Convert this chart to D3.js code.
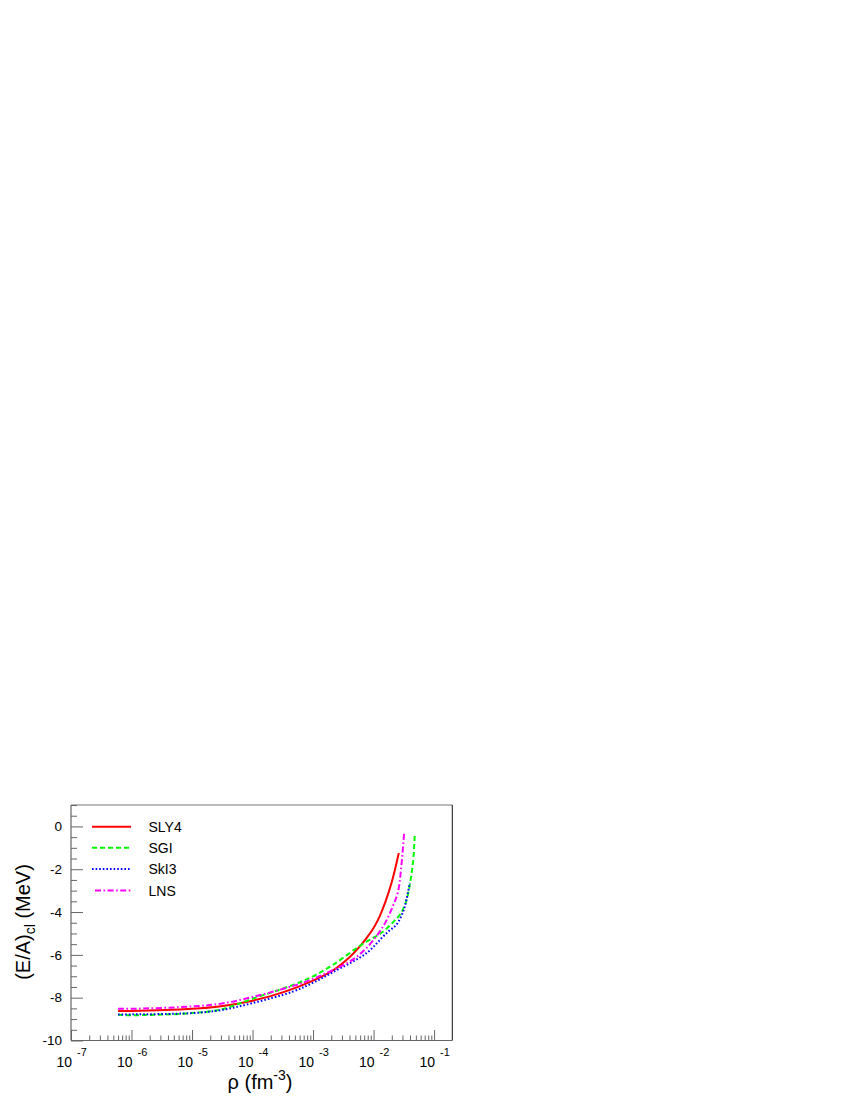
<!DOCTYPE html>
<html><head><meta charset="utf-8">
<script src="https://cdn.jsdelivr.net/npm/d3@7"></script>
<style>
body{margin:0;background:#fff}
svg{display:block}
text{font-family:"Liberation Sans",Arial,Helvetica,sans-serif;fill:#000}
</style>
</head><body>
<svg id="c" width="850" height="1100"></svg>
<script>
// ---- data ----
const seriesNames = ["SLY4", "SGI", "SkI3", "LNS"];
const seriesColors = ["#ff0000", "#00ff00", "#0000ff", "#ff00ff"];

const sly4Rho = [6e-7, 1e-6, 1e-5, 3e-5, 1e-4, 3.16e-4, 1e-3, 2.15e-3, 4.05e-3, 5.56e-3, 7.64e-3, 1e-2, 1.26e-2, 1.58e-2, 2.0e-2, 2.61e-2];
const sly4E   = [-8.62, -8.62, -8.52, -8.40, -8.14, -7.75, -7.20, -6.72, -6.10, -5.70, -5.22, -4.75, -4.20, -3.50, -2.60, -1.24];

const sgiRho = [6e-7, 1e-6, 1e-5, 3e-5, 1e-4, 4.7e-4, 1e-3, 2.15e-3, 6.3e-3, 1.44e-2, 2.72e-2, 2.89e-2, 3.5e-2, 3.97e-2, 4.5e-2, 4.8e-2];
const sgiE   = [-8.80, -8.82, -8.72, -8.55, -8.05, -7.40, -7.00, -6.46, -5.53, -4.91, -4.13, -4.03, -3.45, -2.72, -1.64, -0.31];

const ski3Rho = [6e-7, 1e-6, 1e-5, 3e-5, 1e-4, 4.7e-4, 1e-3, 2.15e-3, 7.64e-3, 1.44e-2, 1.85e-2, 2.39e-2, 3.16e-2, 3.5e-2, 3.97e-2];
const ski3E   = [-8.78, -8.78, -8.72, -8.58, -8.25, -7.71, -7.30, -6.80, -5.92, -5.14, -4.85, -4.59, -3.90, -3.40, -2.64];

const lnsRho = [6e-7, 1e-6, 1e-5, 3e-5, 1e-4, 4.7e-4, 7.8e-4, 4.05e-3, 7.64e-3, 1.44e-2, 2.1e-2, 2.54e-2, 2.89e-2, 3.2e-2];
const lnsE   = [-8.52, -8.52, -8.41, -8.28, -7.97, -7.45, -7.24, -6.31, -5.68, -4.67, -3.70, -3.04, -1.79, -0.31];

const xTickExponents = [-7, -6, -5, -4, -3, -2, -1];
const yTickValues = [0, -2, -4, -6, -8, -10];

// ---- layout ----
const L = 71, R = 452.3, T = 805, B = 1040.5;
const svg = d3.select("#c");
const x = d3.scaleLog().domain([1e-7, 0.2]).range([L, R]);
const y = d3.scaleLinear().domain([-10, 1]).range([B, T]);

const axisCol = "#666";

// frame
svg.append("line").attr("x1", L).attr("x2", R).attr("y1", T).attr("y2", T).attr("stroke", "#777").attr("stroke-width", 1);
svg.append("line").attr("x1", R).attr("x2", R).attr("y1", T).attr("y2", B).attr("stroke", "#111").attr("stroke-width", 1);

// x axis ticks
const xMinor = [];
for (let e = -7; e <= -1; e++) for (let m = 2; m <= 9; m++) { const v = m * Math.pow(10, e); if (v < 0.2) xMinor.push(v); }
const xMajor = xTickExponents.map(e => Math.pow(10, e));
const gx = svg.append("g").attr("transform", `translate(0,${B})`);
gx.call(d3.axisBottom(x).tickValues(xMinor).tickSizeInner(-5).tickSizeOuter(0).tickFormat(""));
gx.select(".domain").remove();
const gx2 = svg.append("g").attr("transform", `translate(0,${B})`);
gx2.call(d3.axisBottom(x).tickValues(xMajor).tickSizeInner(-10.5).tickSizeOuter(0).tickFormat(""));
gx2.select(".domain").remove();
[gx, gx2].forEach(g => g.selectAll("line").attr("stroke", axisCol));
svg.append("line").attr("x1", L).attr("x2", R).attr("y1", B).attr("y2", B).attr("stroke", axisCol).attr("stroke-width", 1.2);

// x tick labels 10^n
xTickExponents.forEach(e => {
  const px = x(Math.pow(10, e));
  svg.append("text").attr("x", px + 1).attr("y", 1066.5).attr("text-anchor", "end")
    .style("font-size", "14px").text("10");
  svg.append("text").attr("x", px + 6).attr("y", 1056).attr("text-anchor", "start")
    .style("font-size", "11px").text(e.toString());
});

// y axis ticks
const yMinor = d3.range(-10, 1.001, 0.5).filter(v => Math.abs(v % 2) > 1e-9);
const gy = svg.append("g").attr("transform", `translate(${L},0)`);
gy.call(d3.axisLeft(y).tickValues(yMinor).tickSizeInner(-6).tickSizeOuter(0).tickFormat(""));
gy.select(".domain").remove();
const gy2 = svg.append("g").attr("transform", `translate(${L},0)`);
gy2.call(d3.axisLeft(y).tickValues(yTickValues).tickSizeInner(-12).tickSizeOuter(0).tickFormat(""));
gy2.select(".domain").remove();
[gy, gy2].forEach(g => g.selectAll("line").attr("stroke", axisCol));
svg.append("line").attr("x1", L).attr("x2", L).attr("y1", T).attr("y2", B).attr("stroke", axisCol).attr("stroke-width", 1.2);

yTickValues.forEach(v => {
  svg.append("text").attr("x", 62).attr("y", y(v) + 4.8).attr("text-anchor", "end")
    .style("font-size", "13.5px").text(v.toString());
});

// axis titles
const yt = svg.append("text").attr("transform", "translate(30,922) rotate(-90)")
  .attr("text-anchor", "middle").style("font-size", "20px");
yt.append("tspan").text("(E/A)");
yt.append("tspan").attr("dy", 5).style("font-size", "14px").text("cl");
yt.append("tspan").attr("dy", -5).text(" (MeV)");

const xt = svg.append("text").attr("x", 260).attr("y", 1089).attr("text-anchor", "middle").style("font-size", "20px");
xt.append("tspan").text("ρ (fm");
xt.append("tspan").attr("dy", -9).style("font-size", "14px").text("-3");
xt.append("tspan").attr("dy", 9).text(")");

// curves
svg.append("clipPath").attr("id", "clip").append("rect").attr("x", L).attr("y", T).attr("width", R - L).attr("height", B - T);
const dashes = [null, "5,3", "1.6,2", "6,2.5,1.6,2.5"];
const rhos = [sly4Rho, sgiRho, ski3Rho, lnsRho];
const es = [sly4E, sgiE, ski3E, lnsE];
const line = d3.line().x(d => x(d[0])).y(d => y(d[1])).curve(d3.curveCatmullRom.alpha(0.5));
const gc = svg.append("g").attr("clip-path", "url(#clip)");
seriesNames.forEach((n, i) => {
  const pts = rhos[i].map((r, k) => [r, es[i][k]]);
  gc.append("path").datum(pts).attr("d", line).attr("fill", "none")
    .attr("stroke", seriesColors[i]).attr("stroke-width", 2)
    .attr("stroke-dasharray", dashes[i]);
});

// legend
const legY = [826.7, 847.8, 869.1, 890.6];
seriesNames.forEach((n, i) => {
  svg.append("line").attr("x1", i === 3 ? 95 : 92).attr("x2", 131).attr("y1", legY[i]).attr("y2", legY[i])
    .attr("stroke", seriesColors[i]).attr("stroke-width", 2).attr("stroke-dasharray", dashes[i]);
  svg.append("text").attr("x", 148.5).attr("y", legY[i] + 5).style("font-size", "14px").text(n);
});
</script>
</body></html>
